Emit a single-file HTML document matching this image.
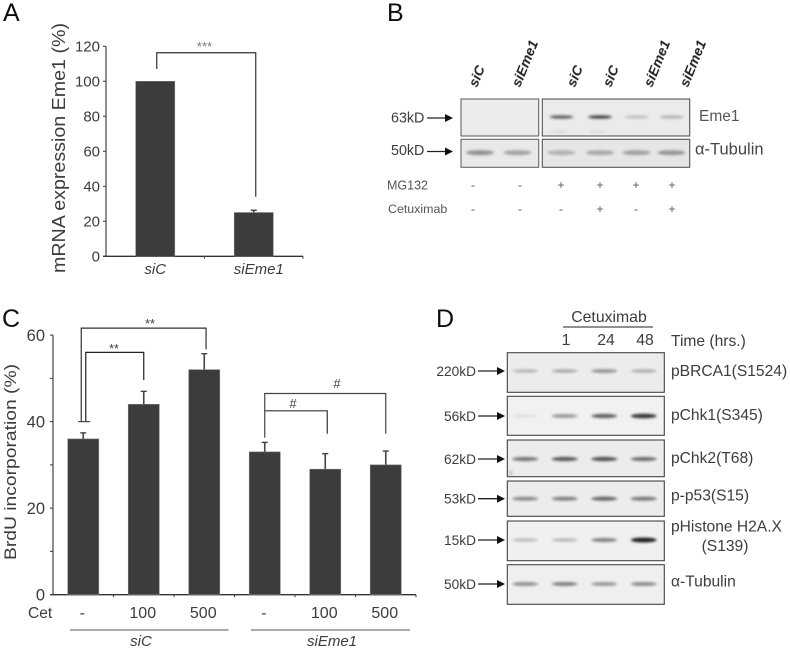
<!DOCTYPE html>
<html lang="en">
<head>
<meta charset="utf-8">
<title>Eme1 figure</title>
<style>
html,body{margin:0;padding:0;background:#fff;width:790px;height:650px;overflow:hidden}
svg{display:block;font-family:"Liberation Sans",sans-serif}
text{fill:#3c3c3c;filter:url(#soft)}
</style>
</head>
<body>
<svg id="fig" xmlns="http://www.w3.org/2000/svg" width="790" height="650" viewBox="0 0 790 650">
  <defs>
    <filter id="soft" x="-5%" y="-5%" width="110%" height="110%"><feGaussianBlur stdDeviation="0.3"/></filter>
    <filter id="band" x="-30%" y="-200%" width="160%" height="500%"><feGaussianBlur stdDeviation="1.3"/></filter>
  </defs>
  <rect width="790" height="650" fill="#fff"/>
  <text x="3" y="21" font-size="25" style="fill:#111">A</text>
  <text x="387" y="21" font-size="25" style="fill:#111">B</text>
  <text x="2" y="327" font-size="25" style="fill:#111">C</text>
  <text x="436" y="327" font-size="25" style="fill:#111">D</text>

  <text transform="translate(65,273) rotate(-90)" font-size="18" textLength="250" lengthAdjust="spacingAndGlyphs">mRNA expression Eme1 (%)</text>
  <text transform="translate(16,560) rotate(-90)" font-size="17" textLength="196" lengthAdjust="spacingAndGlyphs">BrdU incorporation (%)</text>
  <text x="28" y="618" font-size="15.5">Cet</text>
  <line x1="70" y1="630" x2="228.5" y2="630" stroke="#777" stroke-width="1.3"/>
  <line x1="251" y1="630" x2="410" y2="630" stroke="#777" stroke-width="1.3"/>
  <text x="141" y="646" font-size="15" font-style="italic" text-anchor="middle">siC</text>
  <text x="332" y="646" font-size="15" font-style="italic" text-anchor="middle">siEme1</text>

  <text x="391" y="122.5" font-size="14.3">63kD</text>
  <text x="391" y="155" font-size="14.3">50kD</text>
  <text x="699" y="121" font-size="15.5" style="fill:#555">Eme1</text>
  <text x="695" y="154.5" font-size="16.5" style="fill:#444">α-Tubulin</text>
  <text x="387" y="189.5" font-size="12.5" style="fill:#555">MG132</text>
  <text x="388" y="213" font-size="12.4" style="fill:#555">Cetuximab</text>

  <text x="609" y="322" font-size="15.8" text-anchor="middle">Cetuximab</text>
  <line x1="563" y1="327" x2="653" y2="327" stroke="#222" stroke-width="1"/>
  <text x="566" y="345" font-size="15.8" text-anchor="middle">1</text>
  <text x="606" y="345" font-size="15.8" text-anchor="middle">24</text>
  <text x="645" y="345" font-size="15.8" text-anchor="middle">48</text>
  <text x="671" y="346" font-size="15.6">Time (hrs.)</text>
  <text x="725" y="551" font-size="15.6" text-anchor="middle">(S139)</text>
  <g id="layer"></g>
</svg>
<script>
/* Panel A data */
var aCategories = ['siC', 'siEme1'];
var aValues = [100, 25];
var aErrors = [0, 1.3];
var aTicks = [0, 20, 40, 60, 80, 100, 120];
/* Panel C data */
var cDoses = ['-', '100', '500', '-', '100', '500'];
var cValues = [36, 44, 52, 33, 29, 30];
var cErrors = [1.4, 3, 3.7, 2.2, 3.6, 3.2];
var cTicks = [0, 10, 20, 30, 40, 50, 60];
var cTickLabels = ['0', '', '20', '', '40', '', '60'];
/* Panel B data */
var bLanes = ['siC', 'siEme1', 'siC', 'siC', 'siEme1', 'siEme1'];
var bEme1 = [0, 0, 0.66, 0.8, 0.2, 0.26];
var bTubulin = [0.42, 0.34, 0.26, 0.3, 0.34, 0.4];
var bMG132 = ['-', '-', '+', '+', '+', '+'];
var bCetuximab = ['-', '-', '-', '+', '-', '+'];
/* Panel D data */
var dRows = ['pBRCA1(S1524)', 'pChk1(S345)', 'pChk2(T68)', 'p-p53(S15)', 'pHistone H2A.X', 'α-Tubulin'];
var dWeights = ['220kD', '56kD', '62kD', '53kD', '15kD', '50kD'];
var dBands = [
  [0.26, 0.32, 0.42, 0.3],
  [0.08, 0.42, 0.68, 0.88],
  [0.58, 0.7, 0.74, 0.62],
  [0.48, 0.52, 0.64, 0.56],
  [0.24, 0.26, 0.52, 1],
  [0.46, 0.52, 0.42, 0.48]
];

var NS = 'http://www.w3.org/2000/svg';
var layer = document.getElementById('layer');
function mk(tag, attrs, txt) {
  var el = document.createElementNS(NS, tag);
  for (var k in attrs) el.setAttribute(k, attrs[k]);
  if (txt !== undefined) el.textContent = txt;
  layer.appendChild(el);
  return el;
}
function arrow(x1, x2, y) {
  var shaft = mk('line', {x1: x1, y1: y, x2: x2 - 6, y2: y, stroke: '#222', 'stroke-width': 1.3});
  
  
  var head = mk('polygon', {points: (x2 - 8) + ',' + (y - 4) + ' ' + x2 + ',' + y + ' ' + (x2 - 8) + ',' + (y + 4), fill: '#111'});
  
  
}

/* ---------- Bar chart axes ---------- */
function drawAxes(x0, x1, y0, yFn, ticks, labels, n, fs, name, labelX) {
  var yAxis = mk('line', {x1: x0, y1: y0, x2: x0, y2: yFn(ticks[ticks.length - 1]), stroke: '#444', 'stroke-width': 1.2});
  
  
  var xAxis = mk('line', {x1: x0 - 3, y1: y0, x2: x1, y2: y0, stroke: '#333', 'stroke-width': 1.4});
  
  
  ticks.forEach(function (t, i) {
    var tick = mk('line', {x1: x0 - 3, y1: yFn(t), x2: x0, y2: yFn(t), stroke: '#444', 'stroke-width': 1.1});
    
    
    if (labels[i] !== '') {
      var lab = mk('text', {x: labelX, y: yFn(t) + fs * 0.36, 'font-size': fs, 'text-anchor': 'end'}, labels[i]);
      
      
    }
  });
  for (var i = 1; i <= n; i++) {
    var xt = x0 + (x1 - x0) * i / n;
    var xTick = mk('line', {x1: xt, y1: y0, x2: xt, y2: y0 + 2.5, stroke: '#444', 'stroke-width': 1});
    
    
  }
}
function drawBar(cx, w, yFn, value, err, name) {
  var capY = yFn(value + err);
  if (err > 0) {
    var stem = mk('line', {x1: cx, y1: yFn(value), x2: cx, y2: capY, stroke: '#444', 'stroke-width': 1.6});
    
    
    var cap = mk('line', {x1: cx - 3, y1: capY, x2: cx + 3, y2: capY, stroke: '#444', 'stroke-width': 1.4});
    
    
  }
  var bar = mk('rect', {x: cx - w / 2, y: yFn(value), width: w, height: yFn(0) - yFn(value), fill: '#3c3c3c', stroke: '#777', 'stroke-width': 0.6});
  
  
}
function bracket(pts, color, name) {
  var d = pts.map(function (p) { return p[0] + ',' + p[1]; }).join(' ');
  var b = mk('polyline', {points: d, fill: 'none', stroke: color, 'stroke-width': 1.2});
  
  
}

/* ---------- Panel A ---------- */
var aX0 = 106, aX1 = 303, aY0 = 256.3;
function aY(v) { return aY0 - v * 1.75; }
function aX(i) { return aX0 + (aX1 - aX0) * (i + 0.5) / aCategories.length; }
drawAxes(aX0, aX1, aY0, aY, aTicks, aTicks.map(String), aCategories.length, 15, 'a', 100);
aValues.forEach(function (v, i) {
  drawBar(aX(i), 39, aY, v, aErrors[i], 'a-bar-' + aCategories[i].toLowerCase());
  var lab = mk('text', {x: aX(i) + (i ? 5 : 0), y: 274, 'font-size': 15, 'font-style': 'italic', 'text-anchor': 'middle'}, aCategories[i]);
  
  
});
bracket([[aX(0) + 1.5, aY(107)], [aX(0) + 1.5, aY(116.3)], [aX(1) + 2, aY(116.3)], [aX(1) + 2, aY(34)]], '#333', 'a-significance-bracket');
var aStars = mk('text', {x: 204.5, y: 51, 'font-size': 13, 'text-anchor': 'middle', style: 'fill:#777'}, '***');



/* ---------- Panel C ---------- */
var cX0 = 53, cX1 = 416, cY0 = 594.7;
function cY(v) { return cY0 - v * 4.327; }
function cX(i) { return cX0 + (cX1 - cX0) * (i + 0.5) / cDoses.length; }
drawAxes(cX0, cX1, cY0, cY, cTicks, cTickLabels, cDoses.length, 16.5, 'c', 45);
cValues.forEach(function (v, i) {
  drawBar(cX(i), 31, cY, v, cErrors[i], 'c-bar-' + i);
  var lab = mk('text', {x: cX(i) - 1, y: 618, 'font-size': 16, 'text-anchor': 'middle'}, cDoses[i]);
  
  
});
bracket([[cX(0) - 2, cY(40)], [cX(0) - 2, cY(61.6)], [cX(2) + 1.8, cY(61.6)], [cX(2) + 1.8, cY(56.7)]], '#333', 'c-bracket-sic-500');
bracket([[cX(0) + 2.5, cY(40)], [cX(0) + 2.5, cY(56)], [cX(1), cY(56)], [cX(1), cY(49.6)]], '#222', 'c-bracket-sic-100');
var baseCap = mk('line', {x1: cX(0) - 5, y1: cY(40), x2: cX(0) + 7, y2: cY(40), stroke: '#444', 'stroke-width': 1.2});


bracket([[cX(3), cY(36.3)], [cX(3), cY(46.5)], [cX(5), cY(46.5)], [cX(5), cY(37.2)]], '#444', 'c-bracket-sieme1-500');
bracket([[cX(3), cY(42.5)], [cX(4) + 2, cY(42.5)], [cX(4) + 2, cY(37.2)]], '#333', 'c-bracket-sieme1-100');
var s1 = mk('text', {x: 150, y: 328, 'font-size': 12.5, 'text-anchor': 'middle'}, '**');


var s2 = mk('text', {x: 114, y: 353, 'font-size': 12.5, 'text-anchor': 'middle'}, '**');


var s3 = mk('text', {x: 337, y: 388, 'font-size': 13, 'text-anchor': 'middle'}, '#');


var s4 = mk('text', {x: 293, y: 408, 'font-size': 13, 'text-anchor': 'middle'}, '#');



/* ---------- Blot helpers ---------- */
function blot(x1, y1, x2, y2, fill, stroke, name) {
  var r = mk('rect', {x: x1, y: y1, width: x2 - x1, height: y2 - y1, fill: fill, stroke: stroke, 'stroke-width': 1.1});
  
  
}
function band(cx, cy, rx, ry, op, name) {
  if (op <= 0) return;
  var e = mk('ellipse', {cx: cx, cy: cy, rx: rx, ry: ry, fill: '#1a1a1a', opacity: op, filter: 'url(#band)'});
  
  
}

/* ---------- Panel B ---------- */
var bCenters = [480, 517.5, 561.5, 600, 636.5, 671.5];
var bHead = [477, 520, 575, 611, 652, 688];
var bSignX = [473, 520, 561, 600, 636, 672];
blot(461, 99, 538.7, 136, '#ececec', '#666', 'b-eme1-blot-left');
blot(542.3, 99, 689.7, 136, '#ebebeb', '#555', 'b-eme1-blot-right');
blot(461, 139.3, 538.7, 167.3, '#e9e9e9', '#666', 'b-tubulin-blot-left');
blot(542.3, 139.3, 689.7, 167.3, '#e6e6e6', '#555', 'b-tubulin-blot-right');
bLanes.forEach(function (lane, i) {
  var head = mk('text', {transform: 'translate(' + bHead[i] + ',88) rotate(-68)', 'font-size': 14, 'font-style': 'italic', 'font-weight': 'bold', style: 'fill:#222'}, lane);
  
  
  band(bCenters[i], 117, 12, 1.7, bEme1[i], 'b-eme1-band');
  if (bEme1[i] > 0.5) {
    band(bCenters[i] - 2, 131.5, 9, 1, 0.1, 'b-eme1-faint-band');
  }
  band(bCenters[i], 152.7, 14, 2.5, bTubulin[i], 'b-tubulin-band');
  var m = mk('text', {x: bSignX[i], y: 189, 'font-size': 12, 'text-anchor': 'middle', style: 'fill:#555'}, bMG132[i]);
  
  
  var c = mk('text', {x: bSignX[i], y: 213, 'font-size': 12, 'text-anchor': 'middle', style: 'fill:#555'}, bCetuximab[i]);
  
  
});
arrow(427, 453, 118);
arrow(427, 453, 151.5);

/* ---------- Panel D ---------- */
var dTop = [352.7, 396.3, 440, 481, 521, 564.7];
var dBottom = [392.3, 435.3, 476.7, 516.3, 560.7, 604.3];
var dBandY = [371, 416, 459, 498.7, 540, 584];
var dLabelY = [376, 420, 463, 500.7, 531.7, 586.7];
var dFill = ['#ececec', '#f1f1f1', '#ececec', '#ececec', '#f0f0f0', '#efefef'];
function dLane(i) { return 505.5 + 39.5 * (i + 0.5); }
dRows.forEach(function (row, r) {
  blot(507.3, dTop[r], 664.3, dBottom[r], dFill[r], '#444', 'd-blot-' + r);
  dBands[r].forEach(function (op, i) {
    band(dLane(i), dBandY[r], 13, 1.5 + op * 0.9, op, 'd-band');
  });
  var kd = mk('text', {x: 476, y: dBandY[r] + 5, 'font-size': 13.7, 'text-anchor': 'end'}, dWeights[r]);
  
  
  var lab = mk('text', {x: 671, y: dLabelY[r], 'font-size': 15.6}, row);
  
  
  arrow(478, 505, dBandY[r]);
});
var corner = mk('ellipse', {cx: 510.5, cy: 473, rx: 2.5, ry: 2.5, fill: '#333', opacity: 0.2, filter: 'url(#band)'});


</script>
</body>
</html>
